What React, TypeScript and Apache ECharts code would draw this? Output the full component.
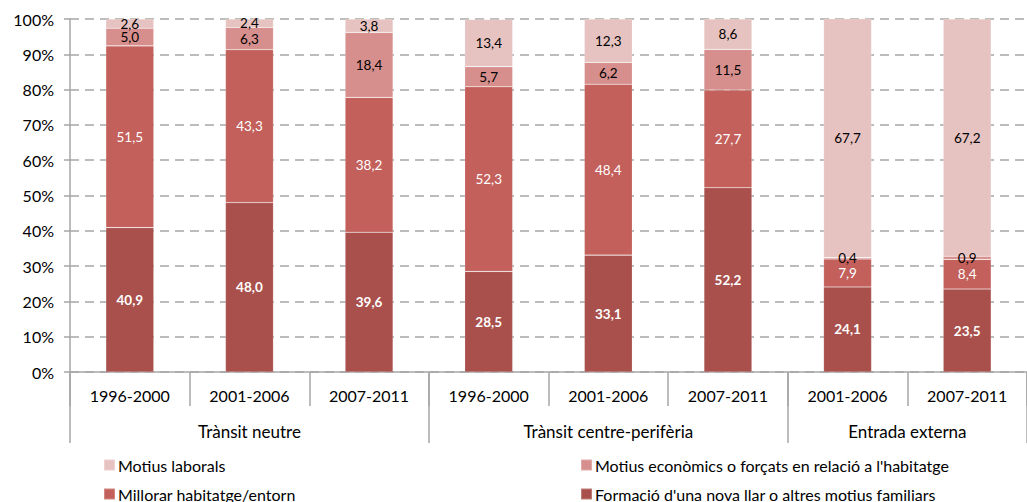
import React, { useEffect, useRef } from "react";
import * as echarts from "echarts";

const categories = ["1996-2000", "2001-2006", "2007-2011", "1996-2000", "2001-2006", "2007-2011", "2001-2006", "2007-2011"];
const groupLabels = ["Trànsit neutre", "Trànsit centre-perifèria", "Entrada externa"];
const groupCenters = [1.5, 4.5, 7];
const groupBounds = [0, 3, 6, 8];
const yTicks = [0, 10, 20, 30, 40, 50, 60, 70, 80, 90, 100];

const seriesNames = [
  "Formació d'una nova llar o altres motius familiars",
  "Millorar habitatge/entorn",
  "Motius econòmics o forçats en relació a l'habitatge",
  "Motius laborals",
];
const formacio = [40.9, 48.0, 39.6, 28.5, 33.1, 52.2, 24.1, 23.5];
const millorar = [51.5, 43.3, 38.2, 52.3, 48.4, 27.7, 7.9, 8.4];
const economics = [5.0, 6.3, 18.4, 5.7, 6.2, 11.5, 0.4, 0.9];
const laborals = [2.6, 2.4, 3.8, 13.4, 12.3, 8.6, 67.7, 67.2];

const colors = ["#A9504C", "#C3605B", "#D68F8D", "#E6C3C1"];
const labelColors = ["#ffffff", "#ffffff", "#000000", "#000000"];
const FONT = "Lato, 'Open Sans', sans-serif";

export default function App() {
  const ref = useRef<HTMLDivElement>(null);
  useEffect(() => {
    if (!ref.current) return;
    const chart = echarts.init(ref.current, null, { renderer: "svg" });
    const values = [formacio, millorar, economics, laborals];
    const fmt = (v: number) => v.toFixed(1).replace(".", ",");
    const legendCommon = {
      top: 457,
      orient: "vertical",
      padding: 0,
      itemGap: 13,
      itemWidth: 11,
      itemHeight: 11,
      icon: "rect",
      textStyle: { fontSize: 16, lineHeight: 16, color: "#000", fontFamily: FONT, padding: [0, 0, 0, -2] },
    };
    chart.setOption({
      animation: false,
      textStyle: { fontFamily: FONT },
      grid: { left: 70, top: 19, bottom: 130, right: -8, containLabel: false },
      legend: [
        { ...legendCommon, left: 103, data: [seriesNames[3], seriesNames[1]] },
        { ...legendCommon, left: 580, data: [seriesNames[2], seriesNames[0]] },
      ],
      xAxis: [
        {
          type: "category",
          data: categories,
          axisLine: { show: true, lineStyle: { color: "#A6A6A6", width: 1.5 } },
          axisTick: { show: true, interval: 0, alignWithLabel: false, length: 34, lineStyle: { color: "#A6A6A6", width: 1.5 } },
          axisLabel: { interval: 0, margin: 15, fontSize: 16, color: "#000", fontFamily: FONT },
        },
        {
          type: "value",
          position: "bottom",
          min: 0,
          max: 8,
          axisLine: { show: false },
          splitLine: { show: false },
          axisTick: { show: true, customValues: groupBounds, length: 71, lineStyle: { color: "#A6A6A6", width: 1.5 } },
          axisLabel: {
            customValues: groupCenters,
            margin: 51,
            fontSize: 17,
            color: "#000",
            fontFamily: FONT,
            formatter: (v: number) => groupLabels[groupCenters.indexOf(v)] ?? "",
          },
        },
      ],
      yAxis: {
        type: "value",
        min: 0,
        max: 100,
        interval: 10,
        axisLine: { show: true, lineStyle: { color: "#A6A6A6", width: 1.5 } },
        axisTick: { show: true, length: 6, lineStyle: { color: "#A6A6A6", width: 1.5 } },
        axisLabel: { margin: 16, fontSize: 16, color: "#000", fontFamily: FONT, formatter: (v: number) => (yTicks.includes(v) ? v + "%" : "") },
        splitLine: { show: true, lineStyle: { color: "#A6A6A6", width: 1.6, type: [9, 6] } },
      },
      series: values.map((data, i) => ({
        name: seriesNames[i],
        type: "bar",
        stack: "total",
        barWidth: 48,
        data,
        itemStyle: { color: colors[i], borderColor: "rgba(255,255,255,0.25)", borderWidth: 0.6 },
        label: {
          show: true,
          position: "inside",
          color: labelColors[i],
          fontSize: 13.5,
          lineHeight: 13,
          fontWeight: i === 0 ? "bold" : "normal",
          fontFamily: FONT,
          formatter: (p: any) => fmt(p.value),
        },
      })),
    });
    return () => chart.dispose();
  }, []);
  return <div ref={ref} style={{ position: "absolute", left: 0, top: 0, width: 1027, height: 502 }} />;
}
